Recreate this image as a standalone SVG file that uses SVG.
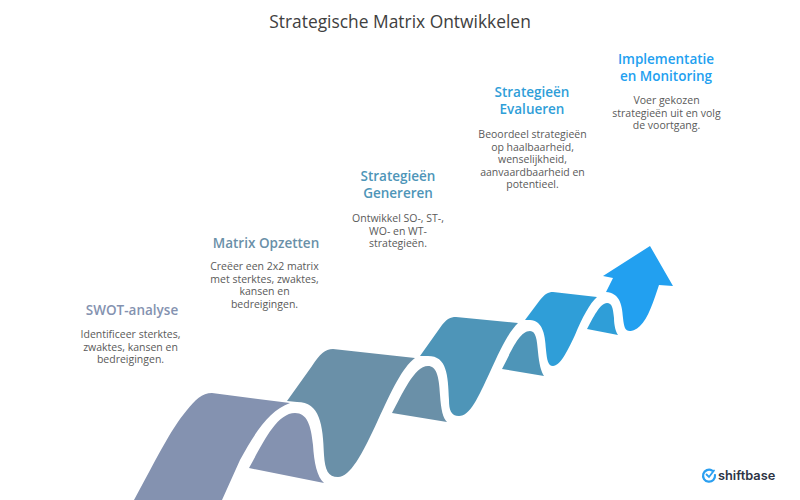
<svg xmlns="http://www.w3.org/2000/svg" width="800" height="500" viewBox="0 0 800 500">
<style>
text{font-family:"Open Sans","Noto Sans",sans-serif;text-anchor:middle}
.t{font-size:17.400px;font-weight:500;fill:#404040}
.h{font-size:13.500px;font-weight:600}
.b{font-size:10.500px;fill:#5a5a5a}
.l{font-family:"Inter","Open Sans",sans-serif;font-size:12.800px;font-weight:600;fill:#2d3445;text-anchor:start}
</style>
<rect width="800" height="500" fill="#fff"/>
<text class="t" x="400" y="28">Strategische Matrix Ontwikkelen</text>
<g id="connectors">
<path id="band1" fill="#8492b0" d="M134 500C155 462 170 430 187 410C195 400 202 393 212 393L290 403C270 410 255 432 240 460L222 500Z"/>
<path fill="#8492b0" d="M249 468C262 445 276 413 295 413C307 413 311 425 313 445C314 462 317 477 324 483Z"/>
<path id="band2" fill="#6a90a8" d="M287 401L312 366C320 354 325 349 333 349L415 358C402 368 392 390 378 420C362 455 350 477 338 477C328 477 325 470 324 455C323 425 320 402 297 402Z"/>
<path fill="#6a90a8" d="M392 413C402 395 414 366 428 366C436 366 439 375 440 395C441 410 443 418 447 422Z"/>
<path id="band3" fill="#4e95b8" d="M420 356L442 325C447 319 450 317 456 317L518 323C508 333 500 350 490 372C478 398 470 416 459 416C451 416 449 410 449 400C448 375 447 356 428 356Z"/>
<path fill="#4e95b8" d="M502 369C511 352 519 331 530 331C536 331 537 340 538 352C539 363 541 372 544 376Z"/>
<path id="band4" fill="#2f9ed8" d="M525 320L540 300C545 294 548 292 553 292L597 297C590 303 582 318 575 335C567 352 560 366 553 366C548 366 547 360 546 350C545 332 542 321 530 320Z"/>
<path fill="#2f9ed8" d="M587 329C593 318 600 303 607 303C612 303 613 308 614 318C614 326 616 332 618 335Z"/>
<path id="arrow" fill="#22a0f0" d="M606 292L613 278L603 276L650 246L673 286L659 285C654 300 648 319 640 326C636 330 632 331 630 331C625 331 624 327 623 318C622 303 619 293 606 292Z"/>
</g>
<g id="n1"><text class="h" x="132" y="315" fill="#8492b0">SWOT-analyse</text>
<text class="b"><tspan x="130.500" y="338">Identificeer sterktes,</tspan><tspan x="130.500" y="350.500">zwaktes, kansen en</tspan><tspan x="130.500" y="363">bedreigingen.</tspan></text></g>
<g id="n2"><text class="h" x="266" y="248" fill="#6a90a8">Matrix Opzetten</text>
<text class="b"><tspan x="264.500" y="270">Creëer een 2x2 matrix</tspan><tspan x="264.500" y="282.500">met sterktes, zwaktes,</tspan><tspan x="264.500" y="295">kansen en</tspan><tspan x="264.500" y="307.500">bedreigingen.</tspan></text></g>
<g id="n3"><text class="h" fill="#4e95b8"><tspan x="398" y="181">Strategieën</tspan><tspan x="398" y="198">Genereren</tspan></text>
<text class="b"><tspan x="398" y="222">Ontwikkel SO-, ST-,</tspan><tspan x="398" y="234.500">WO- en WT-</tspan><tspan x="398" y="247">strategieën.</tspan></text></g>
<g id="n4"><text class="h" fill="#2f9ed8"><tspan x="532" y="97">Strategieën</tspan><tspan x="532" y="114">Evalueren</tspan></text>
<text class="b"><tspan x="532.500" y="138">Beoordeel strategieën</tspan><tspan x="532.500" y="150.500">op haalbaarheid,</tspan><tspan x="532.500" y="163">wenselijkheid,</tspan><tspan x="532.500" y="175.500">aanvaardbaarheid en</tspan><tspan x="532.500" y="188">potentieel.</tspan></text></g>
<g id="n5"><text class="h" fill="#22a0f0"><tspan x="666" y="64">Implementatie</tspan><tspan x="666" y="81">en Monitoring</tspan></text>
<text class="b"><tspan x="666.500" y="104">Voer gekozen</tspan><tspan x="666.500" y="116.500">strategieën uit en volg</tspan><tspan x="666.500" y="129">de voortgang.</tspan></text></g>
<g id="logo"><path d="M712 470.500A6 6 0 1 0 715 475" fill="none" stroke="#2b9ff0" stroke-width="2.200" stroke-linecap="round"/><path d="M706.500 474.500L709 477L714 470.500" fill="none" stroke="#2b9ff0" stroke-width="1.800" stroke-linecap="round"/>
<text class="l" x="718" y="480">shiftbase</text></g>
</svg>
